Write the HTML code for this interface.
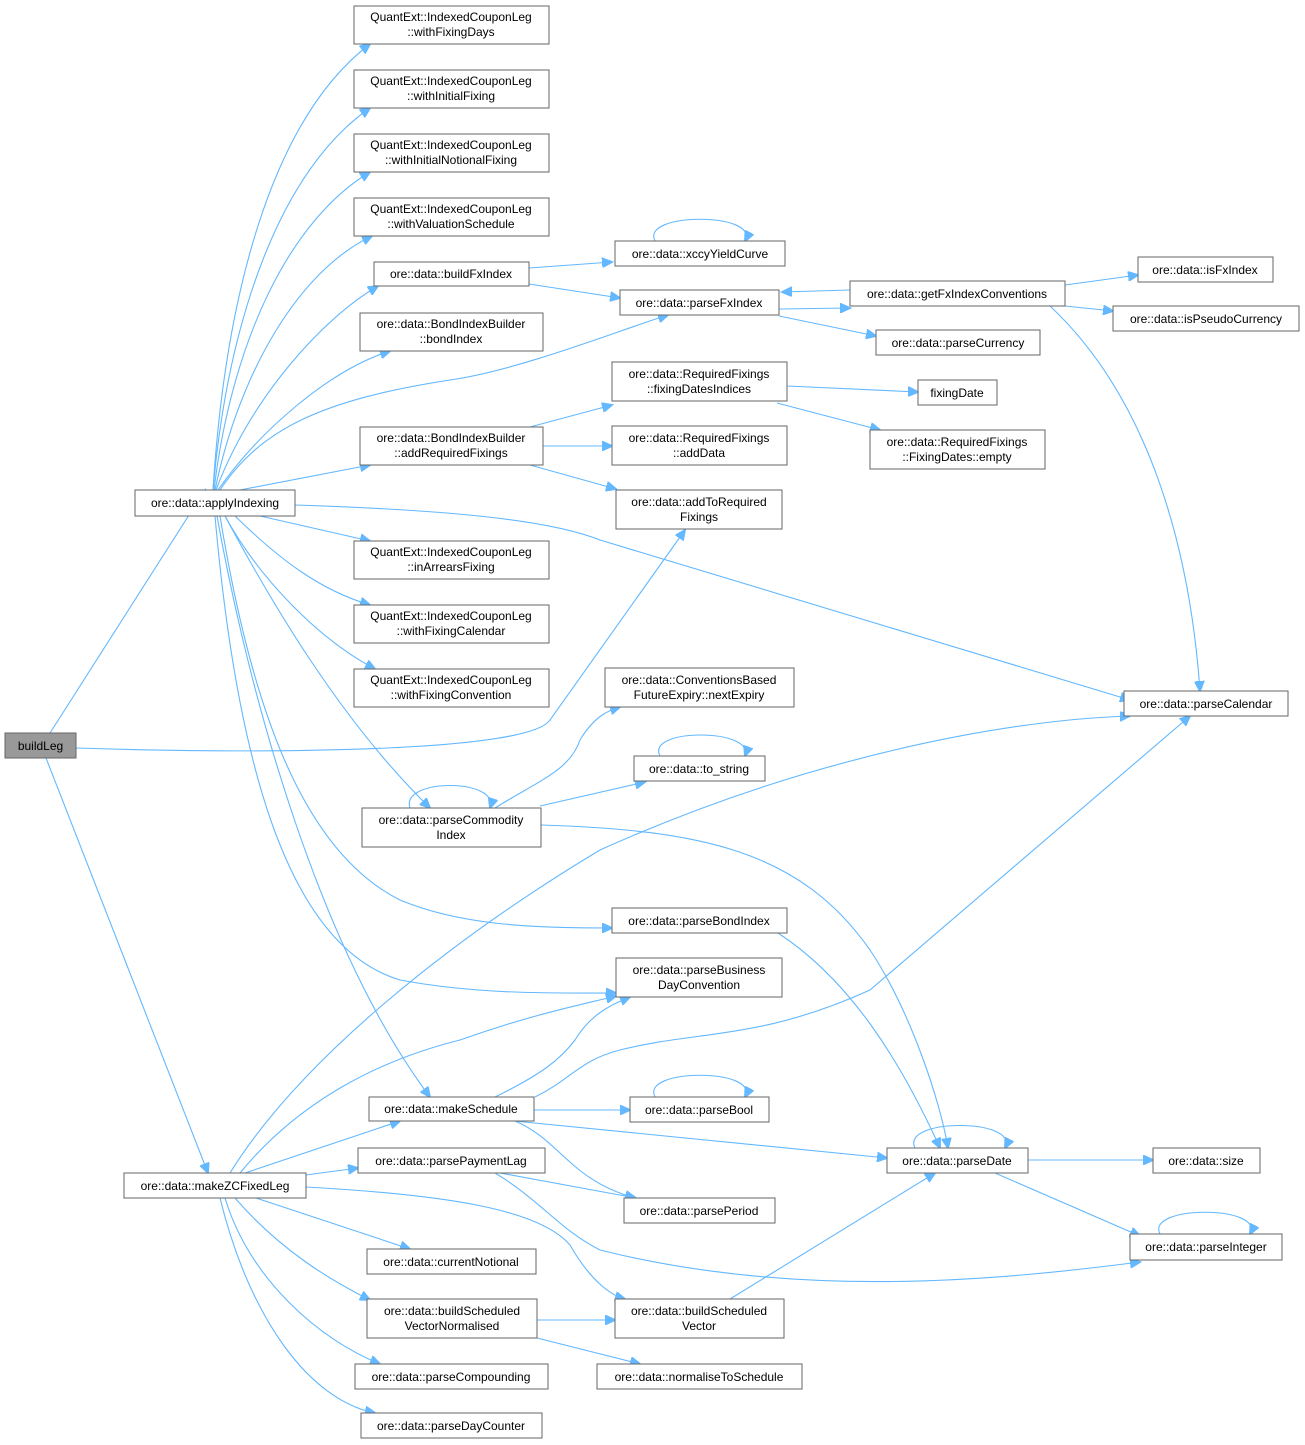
<!DOCTYPE html>
<html><head><meta charset="utf-8"><style>
html,body{margin:0;padding:0;background:#fff;}
svg{display:block;}
text{font-family:"Liberation Sans",sans-serif;font-size:12px;fill:#000;}
.n{fill:#fff;stroke:#666;stroke-width:1;}
.e{fill:none;stroke:#63b8ff;stroke-width:1.1;}
</style></head><body>
<svg width="1305" height="1445" viewBox="0 0 1305 1445" xmlns="http://www.w3.org/2000/svg">
<defs><marker id="a" markerWidth="12" markerHeight="10" refX="10" refY="5" orient="auto" markerUnits="userSpaceOnUse"><path d="M0,0 L11,5 L0,10 z" fill="#63b8ff" stroke="#63b8ff"/></marker></defs>
<g class="edges">
<path class="e" marker-end="url(#a)" d="M50,733 L205,490"/>
<path class="e" marker-end="url(#a)" d="M46,758 L208,1173"/>
<path class="e" marker-end="url(#a)" d="M76,748 C300,755 530,750 550,720 L685,530"/>
<path class="e" marker-end="url(#a)" d="M213,490 C225,300 270,120 370,44"/>
<path class="e" marker-end="url(#a)" d="M213,490 C228,320 280,170 370,108"/>
<path class="e" marker-end="url(#a)" d="M214,490 C232,340 290,220 370,172"/>
<path class="e" marker-end="url(#a)" d="M215,490 C240,370 300,270 372,236"/>
<path class="e" marker-end="url(#a)" d="M216,490 C250,400 320,320 378,286"/>
<path class="e" marker-end="url(#a)" d="M218,490 C260,430 330,370 390,351"/>
<path class="e" marker-end="url(#a)" d="M220,490 C260,430 320,400 450,380 C520,370 620,330 668,315"/>
<path class="e" marker-end="url(#a)" d="M240,490 L370,465"/>
<path class="e" marker-end="url(#a)" d="M260,516 L370,541"/>
<path class="e" marker-end="url(#a)" d="M235,516 C280,560 320,590 370,605"/>
<path class="e" marker-end="url(#a)" d="M225,516 C260,580 320,640 375,669"/>
<path class="e" marker-end="url(#a)" d="M225,516 C270,600 340,720 430,808"/>
<path class="e" marker-end="url(#a)" d="M220,516 C250,700 300,850 400,900 C460,925 530,928 612,928"/>
<path class="e" marker-end="url(#a)" d="M215,516 C240,800 300,950 400,980 C480,995 560,993 616,993"/>
<path class="e" marker-end="url(#a)" d="M217,516 C250,700 320,950 430,1097"/>
<path class="e" marker-end="url(#a)" d="M295,505 C450,510 550,520 600,540 L1130,700"/>
<path class="e" marker-end="url(#a)" d="M529,268 L612,262"/>
<path class="e" marker-end="url(#a)" d="M529,284 L620,298"/>
<path class="e" marker-end="url(#a)" d="M779,309 L850,308"/>
<path class="e" marker-end="url(#a)" d="M850,290 L782,292"/>
<path class="e" marker-end="url(#a)" d="M779,316 L876,336"/>
<path class="e" marker-end="url(#a)" d="M1065,285 L1138,275"/>
<path class="e" marker-end="url(#a)" d="M1065,306 L1113,311"/>
<path class="e" marker-end="url(#a)" d="M1050,306 C1150,400 1190,550 1200,691"/>
<path class="e" marker-end="url(#a)" d="M655,241 C640,212 760,212 745,241"/>
<path class="e" marker-end="url(#a)" d="M530,427 L612,405"/>
<path class="e" marker-end="url(#a)" d="M543,446 L612,446"/>
<path class="e" marker-end="url(#a)" d="M530,465 L616,489"/>
<path class="e" marker-end="url(#a)" d="M787,386 L918,392"/>
<path class="e" marker-end="url(#a)" d="M777,403 L880,430"/>
<path class="e" marker-end="url(#a)" d="M410,808 C400,778 500,778 490,808"/>
<path class="e" marker-end="url(#a)" d="M495,808 C540,780 570,770 580,740 C595,715 610,710 620,707"/>
<path class="e" marker-end="url(#a)" d="M540,806 L645,782"/>
<path class="e" marker-end="url(#a)" d="M660,756 C645,728 755,728 745,756"/>
<path class="e" marker-end="url(#a)" d="M541,825 C700,830 800,850 870,950 C910,1010 940,1100 948,1148"/>
<path class="e" marker-end="url(#a)" d="M778,933 C850,980 900,1060 940,1148"/>
<path class="e" marker-end="url(#a)" d="M495,1097 C540,1075 560,1060 575,1040 C590,1015 610,1005 630,997"/>
<path class="e" marker-end="url(#a)" d="M535,1097 C570,1080 580,1060 620,1050 C700,1030 760,1040 870,990 L1190,716"/>
<path class="e" marker-end="url(#a)" d="M534,1110 L630,1110"/>
<path class="e" marker-end="url(#a)" d="M514,1121 L887,1158"/>
<path class="e" marker-end="url(#a)" d="M515,1121 C560,1140 570,1180 635,1198"/>
<path class="e" marker-end="url(#a)" d="M655,1097 C640,1068 760,1068 745,1097"/>
<path class="e" marker-end="url(#a)" d="M915,1148 C900,1118 1020,1118 1005,1148"/>
<path class="e" marker-end="url(#a)" d="M1028,1160 L1153,1160"/>
<path class="e" marker-end="url(#a)" d="M995,1173 L1140,1236"/>
<path class="e" marker-end="url(#a)" d="M1160,1234 C1145,1205 1265,1205 1250,1234"/>
<path class="e" marker-end="url(#a)" d="M230,1173 C300,1060 450,940 600,850 C800,760 1000,720 1130,716"/>
<path class="e" marker-end="url(#a)" d="M240,1173 C300,1100 380,1060 460,1040 C530,1015 580,1005 616,996"/>
<path class="e" marker-end="url(#a)" d="M245,1173 L400,1121"/>
<path class="e" marker-end="url(#a)" d="M306,1175 L358,1168"/>
<path class="e" marker-end="url(#a)" d="M306,1187 C450,1195 540,1210 570,1245 C590,1280 610,1295 625,1299"/>
<path class="e" marker-end="url(#a)" d="M256,1198 L410,1249"/>
<path class="e" marker-end="url(#a)" d="M235,1198 C280,1250 330,1280 370,1300"/>
<path class="e" marker-end="url(#a)" d="M225,1198 C250,1280 320,1340 380,1364"/>
<path class="e" marker-end="url(#a)" d="M220,1198 C250,1320 310,1400 375,1413"/>
<path class="e" marker-end="url(#a)" d="M500,1173 L636,1198"/>
<path class="e" marker-end="url(#a)" d="M495,1173 C540,1200 560,1230 600,1250 C800,1300 1000,1280 1140,1262"/>
<path class="e" marker-end="url(#a)" d="M537,1320 L615,1320"/>
<path class="e" marker-end="url(#a)" d="M537,1338 L640,1364"/>
<path class="e" marker-end="url(#a)" d="M730,1299 L935,1173"/>
</g>
<g text-anchor="middle">
<rect x="5" y="733" width="71" height="25" fill="#999" stroke="#666"/><text x="40.5" y="750">buildLeg</text>
<rect class="n" x="135" y="490" width="160" height="26"/><text x="215" y="507">ore::data::applyIndexing</text>
<rect class="n" x="124" y="1173" width="182" height="25"/><text x="215" y="1190">ore::data::makeZCFixedLeg</text>

<rect class="n" x="354" y="6" width="195" height="38"/><text x="451" y="21">QuantExt::IndexedCouponLeg</text><text x="451" y="36">::withFixingDays</text>
<rect class="n" x="354" y="70" width="195" height="38"/><text x="451" y="85">QuantExt::IndexedCouponLeg</text><text x="451" y="100">::withInitialFixing</text>
<rect class="n" x="354" y="134" width="195" height="38"/><text x="451" y="149">QuantExt::IndexedCouponLeg</text><text x="451" y="164">::withInitialNotionalFixing</text>
<rect class="n" x="354" y="198" width="195" height="38"/><text x="451" y="213">QuantExt::IndexedCouponLeg</text><text x="451" y="228">::withValuationSchedule</text>
<rect class="n" x="374" y="262" width="155" height="24"/><text x="451" y="278">ore::data::buildFxIndex</text>
<rect class="n" x="360" y="313" width="183" height="38"/><text x="451" y="328">ore::data::BondIndexBuilder</text><text x="451" y="343">::bondIndex</text>
<rect class="n" x="360" y="427" width="183" height="38"/><text x="451" y="442">ore::data::BondIndexBuilder</text><text x="451" y="457">::addRequiredFixings</text>
<rect class="n" x="354" y="541" width="195" height="38"/><text x="451" y="556">QuantExt::IndexedCouponLeg</text><text x="451" y="571">::inArrearsFixing</text>
<rect class="n" x="354" y="605" width="195" height="38"/><text x="451" y="620">QuantExt::IndexedCouponLeg</text><text x="451" y="635">::withFixingCalendar</text>
<rect class="n" x="354" y="669" width="195" height="38"/><text x="451" y="684">QuantExt::IndexedCouponLeg</text><text x="451" y="699">::withFixingConvention</text>
<rect class="n" x="362" y="808" width="179" height="39"/><text x="451" y="824">ore::data::parseCommodity</text><text x="451" y="839">Index</text>
<rect class="n" x="369" y="1097" width="165" height="24"/><text x="451" y="1113">ore::data::makeSchedule</text>
<rect class="n" x="358" y="1148" width="187" height="25"/><text x="451" y="1165">ore::data::parsePaymentLag</text>
<rect class="n" x="367" y="1249" width="169" height="25"/><text x="451" y="1266">ore::data::currentNotional</text>
<rect class="n" x="367" y="1299" width="170" height="39"/><text x="452" y="1315">ore::data::buildScheduled</text><text x="452" y="1330">VectorNormalised</text>
<rect class="n" x="355" y="1364" width="193" height="25"/><text x="451" y="1381">ore::data::parseCompounding</text>
<rect class="n" x="361" y="1413" width="181" height="25"/><text x="451" y="1430">ore::data::parseDayCounter</text>

<rect class="n" x="615" y="241" width="170" height="25"/><text x="700" y="258">ore::data::xccyYieldCurve</text>
<rect class="n" x="620" y="290" width="159" height="25"/><text x="699" y="307">ore::data::parseFxIndex</text>
<rect class="n" x="612" y="362" width="175" height="39"/><text x="699" y="378">ore::data::RequiredFixings</text><text x="699" y="393">::fixingDatesIndices</text>
<rect class="n" x="612" y="426" width="175" height="39"/><text x="699" y="442">ore::data::RequiredFixings</text><text x="699" y="457">::addData</text>
<rect class="n" x="616" y="490" width="166" height="39"/><text x="699" y="506">ore::data::addToRequired</text><text x="699" y="521">Fixings</text>
<rect class="n" x="605" y="668" width="189" height="39"/><text x="699" y="684">ore::data::ConventionsBased</text><text x="699" y="699">FutureExpiry::nextExpiry</text>
<rect class="n" x="634" y="756" width="131" height="25"/><text x="699" y="773">ore::data::to_string</text>
<rect class="n" x="612" y="908" width="175" height="25"/><text x="699" y="925">ore::data::parseBondIndex</text>
<rect class="n" x="616" y="958" width="166" height="39"/><text x="699" y="974">ore::data::parseBusiness</text><text x="699" y="989">DayConvention</text>
<rect class="n" x="630" y="1097" width="139" height="25"/><text x="699" y="1114">ore::data::parseBool</text>
<rect class="n" x="624" y="1198" width="151" height="25"/><text x="699" y="1215">ore::data::parsePeriod</text>
<rect class="n" x="615" y="1299" width="169" height="39"/><text x="699" y="1315">ore::data::buildScheduled</text><text x="699" y="1330">Vector</text>
<rect class="n" x="597" y="1364" width="205" height="25"/><text x="699" y="1381">ore::data::normaliseToSchedule</text>

<rect class="n" x="850" y="281" width="215" height="25"/><text x="957" y="298">ore::data::getFxIndexConventions</text>
<rect class="n" x="876" y="330" width="164" height="25"/><text x="958" y="347">ore::data::parseCurrency</text>
<rect class="n" x="918" y="380" width="79" height="25"/><text x="957" y="397">fixingDate</text>
<rect class="n" x="870" y="430" width="175" height="39"/><text x="957" y="446">ore::data::RequiredFixings</text><text x="957" y="461">::FixingDates::empty</text>
<rect class="n" x="887" y="1148" width="141" height="25"/><text x="957" y="1165">ore::data::parseDate</text>

<rect class="n" x="1138" y="257" width="135" height="25"/><text x="1205" y="274">ore::data::isFxIndex</text>
<rect class="n" x="1113" y="306" width="186" height="25"/><text x="1206" y="323">ore::data::isPseudoCurrency</text>
<rect class="n" x="1124" y="691" width="164" height="25"/><text x="1206" y="708">ore::data::parseCalendar</text>
<rect class="n" x="1153" y="1148" width="107" height="25"/><text x="1206" y="1165">ore::data::size</text>
<rect class="n" x="1130" y="1234" width="152" height="26"/><text x="1206" y="1251">ore::data::parseInteger</text>
</g>
</svg>
</body></html>
